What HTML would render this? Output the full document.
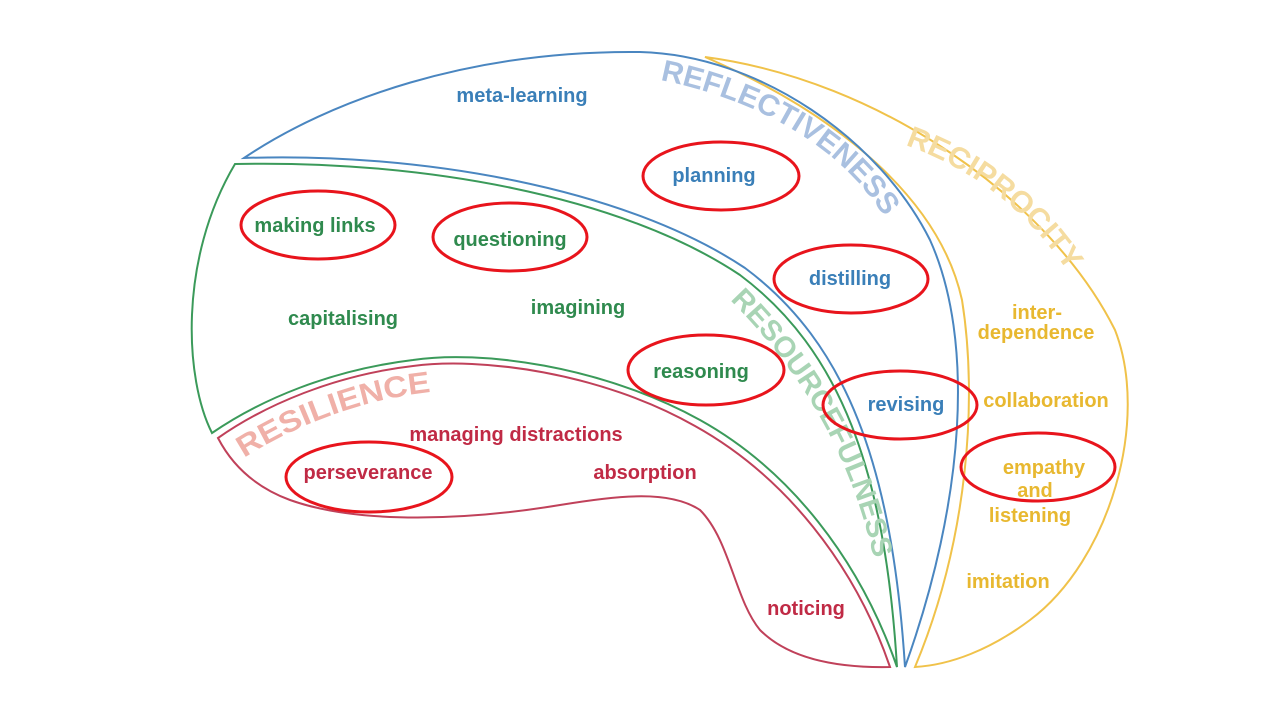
<!DOCTYPE html>
<html><head><meta charset="utf-8"><style>
html,body{margin:0;padding:0;background:#fff;}
svg{display:block;}
text{font-family:"Liberation Sans",sans-serif;font-weight:bold;}
</style></head><body>
<svg width="1280" height="720" viewBox="0 0 1280 720">
<defs>
<path id="pRef" d="M660,80 C760,100 850,150 893,232"/>
<path id="pRec" d="M905,145 C990,175 1045,230 1080,292"/>
<path id="pRes" d="M730,300 C800,370 858,460 880,590"/>
<path id="pResil" d="M244,458 C300,422 370,398 432,392"/>
</defs>
<!-- yellow -->
<path d="M705,57 C880,80 1050,200 1115,330 C1150,420 1110,560 1030,620 C990,650 950,665 915,667 C968,540 978,400 962,300 C940,200 840,115 705,57 Z" fill="none" stroke="#f0c24a" stroke-width="2"/>
<!-- blue -->
<path d="M244,158 C330,100 470,50 640,52 C760,55 880,140 930,240 C975,340 965,500 905,667 C892,465 846,343 745,268 C625,188 420,152 244,158 Z" fill="none" stroke="#4a86c0" stroke-width="2"/>
<!-- green -->
<path d="M235,164 C420,160 620,195 740,275 C840,350 885,470 897,667 C860,560 790,470 700,420 C600,365 480,350 413,360 C330,370 260,400 212,433 C185,380 178,260 235,164 Z" fill="none" stroke="#3b9a5a" stroke-width="2"/>
<!-- red -->
<path d="M218,438 C265,405 335,375 413,366 C480,357 600,372 695,426 C785,476 855,565 890,667 C840,668 790,660 760,630 C735,600 730,540 700,510 C670,490 620,495 560,505 C470,520 360,525 290,500 C255,487 232,465 218,438 Z" fill="none" stroke="#c0415a" stroke-width="2"/>

<text font-size="30" fill="#a9c0e0" font-weight="normal"><textPath href="#pRef" textLength="270" lengthAdjust="spacingAndGlyphs">REFLECTIVENESS</textPath></text>
<text font-size="30" fill="#f5dca0" font-weight="normal"><textPath href="#pRec" textLength="210" lengthAdjust="spacingAndGlyphs">RECIPROCITY</textPath></text>
<text font-size="29" fill="#a8d4b4" font-weight="normal"><textPath href="#pRes" textLength="300" lengthAdjust="spacingAndGlyphs">RESOURCEFULNESS</textPath></text>
<text font-size="30" fill="#f0b0a8" font-weight="normal"><textPath href="#pResil" textLength="200" lengthAdjust="spacingAndGlyphs">RESILIENCE</textPath></text>

<g font-size="20" text-anchor="middle">
<text x="522" y="102" fill="#3a7fb8">meta-learning</text>
<text x="714" y="182" fill="#3a7fb8">planning</text>
<text x="850" y="285" fill="#3a7fb8">distilling</text>
<text x="906" y="411" fill="#3a7fb8">revising</text>
<text x="315" y="232" fill="#2f8a4e">making links</text>
<text x="510" y="246" fill="#2f8a4e">questioning</text>
<text x="343" y="325" fill="#2f8a4e">capitalising</text>
<text x="578" y="314" fill="#2f8a4e">imagining</text>
<text x="701" y="378" fill="#2f8a4e">reasoning</text>
<text x="516" y="441" fill="#c02a45">managing distractions</text>
<text x="368" y="479" fill="#c02a45">perseverance</text>
<text x="645" y="479" fill="#c02a45">absorption</text>
<text x="806" y="615" fill="#c02a45">noticing</text>
<text x="1037" y="319" fill="#e8b830">inter-</text>
<text x="1036" y="339" fill="#e8b830">dependence</text>
<text x="1046" y="407" fill="#e8b830">collaboration</text>
<text x="1044" y="474" fill="#e8b830">empathy</text>
<text x="1035" y="497" fill="#e8b830">and</text>
<text x="1030" y="522" fill="#e8b830">listening</text>
<text x="1008" y="588" fill="#e8b830">imitation</text>
</g>
<g fill="none" stroke="#e8141c" stroke-width="3">
<ellipse cx="318" cy="225" rx="77" ry="34"/>
<ellipse cx="510" cy="237" rx="77" ry="34"/>
<ellipse cx="721" cy="176" rx="78" ry="34"/>
<ellipse cx="851" cy="279" rx="77" ry="34"/>
<ellipse cx="706" cy="370" rx="78" ry="35"/>
<ellipse cx="900" cy="405" rx="77" ry="34"/>
<ellipse cx="1038" cy="467" rx="77" ry="34"/>
<ellipse cx="369" cy="477" rx="83" ry="35"/>
</g>
</svg>
</body></html>
